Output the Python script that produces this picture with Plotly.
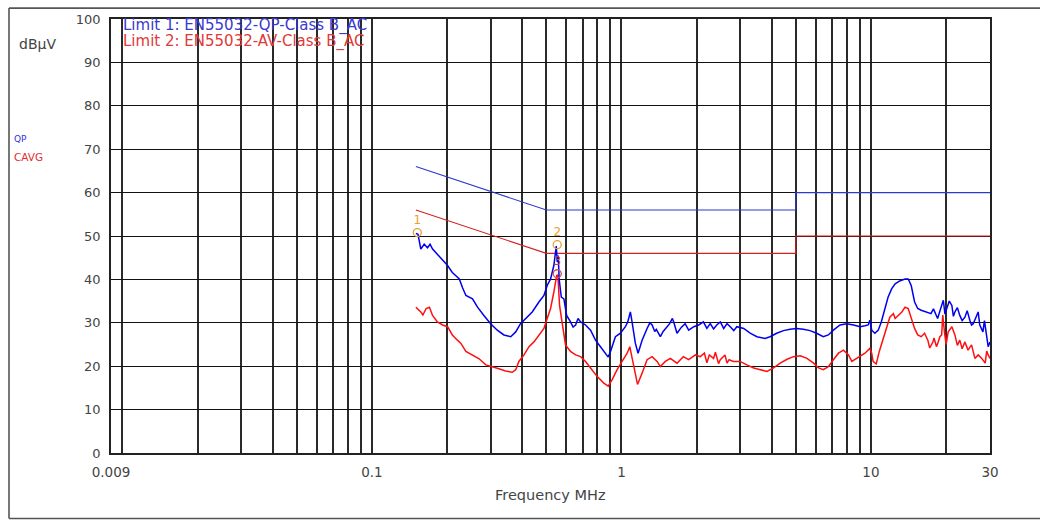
import numpy as np
import plotly.graph_objects as go

# ---------------- data ----------------
qp_freq = [0.150, 0.153, 0.157, 0.162, 0.167, 0.171, 0.175, 0.183, 0.192, 0.201,
           0.210, 0.224, 0.231, 0.238, 0.253, 0.265, 0.281, 0.299, 0.318, 0.338,
           0.360, 0.377, 0.394, 0.413, 0.439, 0.467, 0.489, 0.504, 0.520, 0.536,
           0.548, 0.553, 0.558, 0.563, 0.574, 0.588, 0.603, 0.625, 0.640, 0.655,
           0.670, 0.686, 0.718, 0.752, 0.787, 0.824, 0.863, 0.885, 0.904, 0.946,
           0.991, 1.037, 1.060, 1.086, 1.100, 1.137, 1.166, 1.210, 1.267, 1.300,
           1.327, 1.360, 1.380, 1.432, 1.470, 1.500, 1.560, 1.600, 1.620, 1.670,
           1.740, 1.800, 1.860, 1.950, 2.040, 2.130, 2.200, 2.270, 2.340, 2.410,
           2.490, 2.570, 2.650, 2.730, 2.820, 2.900, 3.090, 3.280, 3.490, 3.760,
           3.940, 4.190, 4.460, 4.740, 5.040, 5.360, 5.700, 6.060, 6.440, 6.750,
           7.070, 7.520, 8.000, 8.510, 9.050, 9.460, 9.750, 9.900, 10.07, 10.37,
           10.70, 11.00, 11.36, 11.71, 12.10, 12.50, 13.10, 13.70, 14.10, 14.50,
           14.96, 15.40, 15.90, 16.60, 17.40, 17.80, 18.20, 18.50, 19.20, 19.50,
           19.80, 20.10, 20.60, 21.10, 21.40, 21.70, 22.20, 22.70, 23.20, 23.80,
           24.30, 24.90, 25.30, 25.70, 26.30, 26.90, 27.30, 28.10, 28.50, 29.00,
           29.50, 30.00]
qp_vals = [50.6, 50.4, 47.0, 48.1, 47.3, 48.1, 47.0, 45.8, 44.3, 43.2,
           41.6, 40.1, 38.0, 36.3, 35.5, 33.6, 31.7, 29.8, 28.3, 27.2,
           26.8, 27.9, 29.8, 31.0, 32.5, 34.8, 36.3, 38.6, 40.1, 43.2,
           47.7, 44.0, 45.5, 40.0, 35.9, 35.5, 31.7, 30.2, 29.0, 29.5,
           31.0, 30.2, 29.5, 28.3, 26.0, 24.5, 23.0, 22.1, 23.4, 26.8,
           27.6, 29.1, 30.2, 32.5, 30.6, 25.3, 23.0, 26.0, 28.7, 30.0,
           29.5, 28.0, 28.5, 26.8, 28.0, 28.7, 29.8, 31.0, 30.2, 27.6,
           29.0, 29.8, 28.3, 29.1, 29.5, 30.2, 28.7, 29.8, 28.6, 29.5,
           30.2, 28.7, 29.8, 29.1, 28.2, 29.1, 28.7, 27.6, 26.8, 26.4,
           26.8, 27.6, 28.2, 28.5, 28.7, 28.5, 28.2, 27.6, 26.8, 27.2,
           28.3, 29.5, 29.8, 29.5, 29.1, 29.3, 29.5, 30.6, 28.3, 27.6,
           28.3, 30.2, 33.3, 35.9, 37.8, 39.0, 39.7, 40.1, 40.1, 38.6,
           34.8, 33.3, 32.9, 32.5, 32.1, 33.2, 31.7, 31.0, 34.0, 35.2,
           32.0, 33.3, 35.0, 34.0, 31.5, 32.5, 33.5, 31.7, 30.5, 31.3,
           32.8, 30.6, 29.5, 29.8, 31.0, 32.5, 29.5, 27.9, 30.5, 26.8,
           24.5, 25.6]

av_freq = [0.150, 0.157, 0.160, 0.165, 0.170, 0.175, 0.183, 0.192, 0.201, 0.210,
           0.220, 0.227, 0.238, 0.253, 0.269, 0.286, 0.304, 0.323, 0.343, 0.365,
           0.377, 0.388, 0.407, 0.426, 0.446, 0.467, 0.489, 0.504, 0.520, 0.536,
           0.550, 0.556, 0.561, 0.565, 0.574, 0.584, 0.597, 0.625, 0.655, 0.686,
           0.718, 0.752, 0.800, 0.850, 0.885, 0.918, 0.961, 1.006, 1.054, 1.080,
           1.100, 1.137, 1.160, 1.210, 1.267, 1.327, 1.390, 1.432, 1.500, 1.570,
           1.670, 1.770, 1.860, 1.980, 2.070, 2.150, 2.200, 2.250, 2.340, 2.380,
           2.450, 2.490, 2.600, 2.650, 2.700, 2.810, 2.990, 3.180, 3.390, 3.600,
           3.830, 4.070, 4.330, 4.610, 4.900, 5.210, 5.540, 5.890, 6.170, 6.440,
           6.750, 7.070, 7.410, 7.760, 8.130, 8.380, 8.770, 9.050, 9.460, 9.900,
           10.07, 10.20, 10.50, 10.80, 11.20, 11.60, 11.90, 12.30, 12.50, 13.30,
           13.70, 14.10, 14.50, 14.96, 15.40, 15.90, 16.40, 16.90, 17.20, 17.70,
           17.90, 18.30, 18.60, 18.90, 19.20, 19.40, 19.70, 20.00, 20.40, 21.10,
           21.70, 22.20, 22.70, 23.20, 23.80, 24.50, 25.30, 26.10, 26.90, 27.80,
           28.70, 29.10, 29.50, 30.00]
av_vals = [33.6, 32.5, 31.8, 33.3, 33.6, 31.7, 30.2, 29.5, 29.1, 27.2,
           26.0, 25.3, 23.4, 22.6, 21.7, 20.3, 19.9, 19.4, 18.9, 18.6,
           19.2, 21.1, 22.6, 24.5, 25.6, 27.2, 28.7, 31.0, 33.3, 37.1,
           40.9, 41.0, 37.8, 34.0, 31.3, 28.7, 24.9, 23.4, 22.6, 22.2,
           21.1, 19.6, 17.6, 16.1, 15.4, 16.9, 19.2, 21.1, 23.0, 24.5,
           22.2, 17.6, 15.8, 18.4, 21.5, 22.2, 21.1, 19.9, 21.1, 21.8,
           20.7, 22.2, 21.5, 22.6, 22.2, 23.0, 20.8, 22.6, 21.8, 23.2,
           20.6, 21.5, 22.6, 20.7, 21.5, 21.1, 21.1, 20.3, 19.6, 19.2,
           18.8, 19.6, 20.7, 21.6, 22.2, 22.4, 21.8, 20.7, 19.6, 19.2,
           19.9, 21.5, 23.0, 23.7, 22.6, 21.1, 21.8, 22.2, 23.0, 24.1,
           23.0, 21.1, 20.5, 23.4, 26.4, 29.1, 31.3, 32.1, 31.0, 32.5,
           33.6, 33.3, 31.3, 28.7, 27.2, 26.8, 27.6, 26.0, 24.2, 25.5,
           26.5, 24.5, 25.6, 26.8, 27.2, 31.8, 27.9, 25.0, 27.9, 29.1,
           27.2, 24.8, 26.0, 24.0, 25.6, 23.7, 24.9, 21.8, 22.6, 21.8,
           20.7, 23.5, 22.6, 21.8]

qp_limit_freq = [0.15, 0.5, 5.0, 5.0, 30.0]
qp_limit_vals = [66, 56, 56, 60, 60]
av_limit_freq = [0.15, 0.5, 5.0, 5.0, 30.0]
av_limit_vals = [56, 46, 46, 50, 50]

marker_freq = [0.152, 0.553, 0.553]
marker_vals = [50.8, 48.0, 41.3]
marker_labels = ["1", "2", "3"]

x_grid_vals = [0.009, 0.01, 0.02, 0.03, 0.04, 0.05, 0.06, 0.07, 0.08, 0.09,
               0.1, 0.2, 0.3, 0.4, 0.5, 0.6, 0.7, 0.8, 0.9,
               1, 2, 3, 4, 5, 6, 7, 8, 9, 10, 20, 30]
x_label_map = {0.009: "0.009", 0.1: "0.1", 1: "1", 10: "10", 30: "30"}
x_tick_text = [x_label_map.get(v, "") for v in x_grid_vals]
y_tick_vals = [0, 10, 20, 30, 40, 50, 60, 70, 80, 90, 100]

# ---------------- figure ----------------
FONT = "DejaVu Sans"
BLUE = "#0000f0"
RED = "#ff1010"
ORANGE = "#e8a030"

fig = go.Figure()

fig.add_trace(go.Scatter(x=qp_limit_freq, y=qp_limit_vals, mode="lines",
                         line=dict(color="#2a3acc", width=1.1), hoverinfo="skip"))
fig.add_trace(go.Scatter(x=av_limit_freq, y=av_limit_vals, mode="lines",
                         line=dict(color="#d42020", width=1.1), hoverinfo="skip"))
fig.add_trace(go.Scatter(x=av_freq, y=av_vals, mode="lines",
                         line=dict(color=RED, width=1.5)))
fig.add_trace(go.Scatter(x=qp_freq, y=qp_vals, mode="lines",
                         line=dict(color=BLUE, width=1.5)))
fig.add_trace(go.Scatter(x=marker_freq, y=marker_vals, mode="markers+text",
                         text=marker_labels, textposition="top center",
                         textfont=dict(family=FONT, size=12,
                                       color=[ORANGE, ORANGE, "#c04040"]),
                         marker=dict(symbol="circle-open", size=8,
                                     color=[ORANGE, ORANGE, "#d05050"],
                                     line=dict(width=1.3))))

L, R, T, B = 111, 50, 16, 68
W, H = 1040, 521
pw, ph = W - L - R, H - T - B


def px(x):
    return (x - L) / pw


def py(y):
    return (H - B - y) / ph


frame_style = dict(color="#555", width=1.6)
frame = [
    dict(type="line", xref="paper", yref="paper", x0=px(9), x1=px(9),
         y0=py(519), y1=py(5), line=frame_style, layer="below"),
    dict(type="line", xref="paper", yref="paper", x0=px(9), x1=px(1040),
         y0=py(5), y1=py(5), line=frame_style, layer="below"),
    dict(type="line", xref="paper", yref="paper", x0=px(9), x1=px(1040),
         y0=py(519), y1=py(519), line=frame_style, layer="below"),
]

fig.update_layout(
    width=W, height=H,
    margin=dict(l=L, r=R, t=T, b=B),
    paper_bgcolor="white", plot_bgcolor="white",
    showlegend=False,
    font=dict(family=FONT, size=13, color="#444"),
    xaxis=dict(type="log", range=[np.log10(0.009), np.log10(30)],
               tickmode="array", tickvals=x_grid_vals, ticktext=x_tick_text,
               showgrid=True, gridcolor="#2a2a2a", gridwidth=1.5,
               ticks="outside", ticklen=6, tickcolor="rgba(0,0,0,0)",
               showline=True, linecolor="#222", linewidth=1.5, mirror=True,
               zeroline=False, tickfont=dict(family=FONT, size=13.5, color="#444")),
    yaxis=dict(range=[0, 100], tickmode="array", tickvals=y_tick_vals,
               showgrid=True, gridcolor="#111", gridwidth=1.2,
               ticks="outside", ticklen=6, tickcolor="rgba(0,0,0,0)",
               showline=True, linecolor="#222", linewidth=1.5, mirror=True,
               zeroline=False, tickfont=dict(family=FONT, size=13, color="#444")),
    shapes=frame,
    annotations=[
        dict(text="Limit 1: EN55032-QP-Class B_AC", xref="paper", yref="paper",
             x=px(121), y=py(23), xanchor="left", yanchor="middle", showarrow=False,
             font=dict(family=FONT, size=15, color="#3a3ad0")),
        dict(text="Limit 2: EN55032-AV-Class B_AC", xref="paper", yref="paper",
             x=px(121), y=py(39), xanchor="left", yanchor="middle", showarrow=False,
             font=dict(family=FONT, size=15, color="#e03a3a")),
        dict(text="dBµV", xref="paper", yref="paper",
             x=px(17), y=py(41), xanchor="left", yanchor="middle", showarrow=False,
             font=dict(family=FONT, size=14, color="#444")),
        dict(text="QP", xref="paper", yref="paper",
             x=px(12), y=py(137), xanchor="left", yanchor="middle", showarrow=False,
             font=dict(family=FONT, size=9, color="#3030e0")),
        dict(text="CAVG", xref="paper", yref="paper",
             x=px(12), y=py(155), xanchor="left", yanchor="middle", showarrow=False,
             font=dict(family=FONT, size=10.5, color="#e03030")),
        dict(text="Frequency MHz", xref="paper", yref="paper",
             x=0.5, y=py(495), xanchor="center", yanchor="middle", showarrow=False,
             font=dict(family=FONT, size=14.5, color="#444")),
    ],
)

fig.write_html("out.html", config={"displayModeBar": False},
               post_script="document.body.style.margin='0px';"
                           "document.body.style.overflow='hidden';"
                           "document.documentElement.style.overflow='hidden';")
